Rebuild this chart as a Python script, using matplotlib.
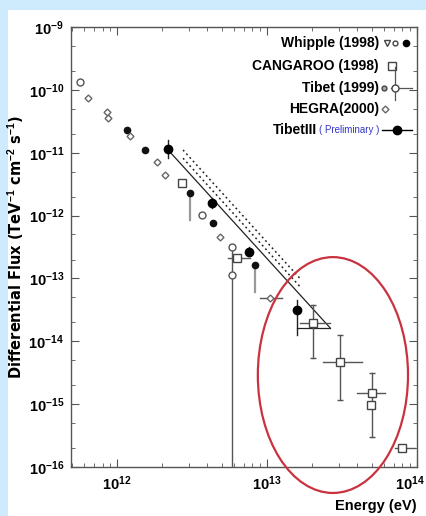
import matplotlib
matplotlib.use('Agg')
import matplotlib.pyplot as plt
import numpy as np
from matplotlib.patches import Ellipse, Rectangle
from matplotlib.ticker import LogLocator, FuncFormatter, NullFormatter

plt.rcParams['font.family'] = ['Liberation Sans', 'DejaVu Sans']
plt.rcParams['mathtext.fontset'] = 'custom'
plt.rcParams['mathtext.rm'] = 'Liberation Sans'
plt.rcParams['mathtext.bf'] = 'Liberation Sans:bold'

# ---------------- data (log10 of energy in eV, log10 of flux) ----------------
whipple_logE = [12.067, 12.187, 12.487, 12.64, 12.92]
whipple_logF = [-10.638, -10.955, -11.639, -12.116, -12.784]
whipple_logF_lo = [-10.638, -10.955, -12.068, -12.116, -13.213]

tibet3_logE = [12.34, 12.633, 12.88, 13.2]
tibet3_logF = [-10.94, -11.798, -12.577, -13.499]
tibet3_logF_hi = [-10.797, -11.72, -12.5, -13.34]
tibet3_logF_lo = [-11.083, -11.88, -12.65, -13.897]

tibet_logE = [11.753, 12.567, 12.767, 12.767]
tibet_logF = [-9.874, -11.989, -12.498, -12.943]
tibet_logF_lo = [-9.874, -11.989, -16.5, -12.943]

cangaroo_logE = [12.433, 12.8, 13.307, 13.487, 13.7, 13.693, 13.9]
cangaroo_logF = [-11.48, -12.672, -13.706, -14.326, -14.819, -15.01, -15.693]
cangaroo_logE_lo = [12.433, 12.74, 13.22, 13.373, 13.6, 13.693, 13.853]
cangaroo_logE_hi = [12.433, 12.887, 13.42, 13.633, 13.787, 13.693, 13.987]
cangaroo_logF_hi = [-11.48, -12.672, -13.42, -13.897, -14.5, -15.01, -15.693]
cangaroo_logF_lo = [-11.48, -12.672, -14.26, -14.93, -15.518, -15.01, -15.693]

hegra_logE = [11.807, 11.933, 11.94, 12.087, 12.267, 12.32, 12.687, 13.02]
hegra_logF = [-10.129, -10.351, -10.447, -10.733, -11.146, -11.353, -12.339, -13.308]
hegra_logE_lo = [11.807, 11.933, 11.94, 12.087, 12.267, 12.32, 12.687, 12.953]
hegra_logE_hi = [11.807, 11.933, 11.94, 12.087, 12.267, 12.32, 12.687, 13.1]

# power-law fit (TibetIII) and its band
fit_index = 2.62
fit_logE0 = 12.34
fit_logF0 = -10.955
fit_range = [12.34, 13.42]
band_offsets = [0.13, 0.26]
band_range = [12.44, 13.22]
fit_end_bar_logE = 13.2

legend_labels = ['Whipple (1998)', 'CANGAROO (1998)', 'Tibet (1999)', 'HEGRA(2000)', 'TibetIII']

def p(v):
    return 10.0 ** np.asarray(v, dtype=float)

# ---------------- figure ----------------
fig = plt.figure(figsize=(4.27, 5.16), dpi=100)
fig.patch.set_facecolor('#CDEBFD')
fig.patches.append(Rectangle((8 / 427, 0), 1, 1 - 10 / 516, transform=fig.transFigure,
                             facecolor='white', edgecolor='none', zorder=-10))

ax = fig.add_axes([71 / 427, 49 / 516, 346 / 427, 440 / 516])
ax.set_zorder(1)
ax.set_facecolor('white')
ax.set_xscale('log')
ax.set_yscale('log')
ax.set_xlim(10 ** 11.693, 1e14)
ax.set_ylim(1e-16, 1e-9)

dark = '#222222'

# fit lines
Efit = np.array(fit_range)
Ffit = fit_logF0 - fit_index * (Efit - fit_logE0)
ax.plot(p(Efit), p(Ffit), color=dark, lw=0.9, zorder=2)
ax.plot(p([fit_end_bar_logE, fit_range[1]]), p([Ffit[-1], Ffit[-1]]), color=dark, lw=0.9, zorder=2)
Eb = np.array(band_range)
for off in band_offsets:
    Fb = fit_logF0 + off - fit_index * (Eb - fit_logE0)
    ax.plot(p(Eb), p(Fb), color=dark, lw=1.1, ls=(0, (1.2, 2.0)), zorder=2)

# Whipple: filled circles
for e, f, flo in zip(whipple_logE, whipple_logF, whipple_logF_lo):
    if flo != f:
        ax.plot(p([e, e]), p([f, flo]), color='#999999', lw=1.6, zorder=3)
ax.plot(p(whipple_logE), p(whipple_logF), 'o', ms=4.5, color='#111111', zorder=4, ls='none')

# TibetIII: larger filled circles with error bars
for e, fh, fl in zip(tibet3_logE, tibet3_logF_hi, tibet3_logF_lo):
    ax.plot(p([e, e]), p([fh, fl]), color=dark, lw=1.0, zorder=3)
ax.plot(p(tibet3_logE), p(tibet3_logF), 'o', ms=6, color='black', zorder=5, ls='none')

# Tibet (1999): open circles
for e, f, flo in zip(tibet_logE, tibet_logF, tibet_logF_lo):
    if flo != f:
        ax.plot(p([e, e]), p([f, flo]), color='#555555', lw=1.0, zorder=3)
ax.plot(p(tibet_logE), p(tibet_logF), 'o', ms=5, mfc='white', mec='#555555', mew=1.0, zorder=4, ls='none')

# CANGAROO: open squares with error bars
for e, el, eh, f, fh, fl in zip(cangaroo_logE, cangaroo_logE_lo, cangaroo_logE_hi,
                                cangaroo_logF, cangaroo_logF_hi, cangaroo_logF_lo):
    if el != eh:
        ax.plot(p([el, eh]), p([f, f]), color='#555555', lw=1.0, zorder=3)
    if fh != fl:
        ax.plot(p([e, e]), p([fh, fl]), color='#555555', lw=1.0, zorder=3)
        ax.plot(p([e]), p([fl]), marker='_', ms=5, color='#555555', zorder=3)
        ax.plot(p([e]), p([fh]), marker='_', ms=5, color='#555555', zorder=3)
ax.plot(p(cangaroo_logE), p(cangaroo_logF), 's', ms=5.5, mfc='white', mec='#444444', mew=1.0,
        zorder=4, ls='none')

# HEGRA: small open markers
for e, el, eh, f in zip(hegra_logE, hegra_logE_lo, hegra_logE_hi, hegra_logF):
    if el != eh:
        ax.plot(p([el, eh]), p([f, f]), color='#555555', lw=1.0, zorder=3)
ax.plot(p(hegra_logE), p(hegra_logF), 'D', ms=3.5, mfc='white', mec='#666666', mew=1.0,
        zorder=4, ls='none')

# ---------------- axes styling ----------------
for s in ax.spines.values():
    s.set_color('#555555')
    s.set_linewidth(1.0)

def fmt(v, pos):
    if v <= 0:
        return ''
    ex = int(round(np.log10(v)))
    if ex >= 14:
        return ''
    return r'$\mathbf{10^{%d}}$' % ex

ax.xaxis.set_major_locator(LogLocator(base=10, numticks=10))
ax.xaxis.set_minor_locator(LogLocator(base=10, subs=np.arange(2, 10), numticks=20))
ax.yaxis.set_major_locator(LogLocator(base=10, numticks=12))
ax.yaxis.set_minor_locator(LogLocator(base=10, subs=(2, 5), numticks=20))
ax.xaxis.set_major_formatter(FuncFormatter(fmt))
ax.yaxis.set_major_formatter(FuncFormatter(fmt))
ax.xaxis.set_minor_formatter(NullFormatter())
ax.yaxis.set_minor_formatter(NullFormatter())
ax.tick_params(which='both', direction='in', top=True, right=True, color='#555555')
ax.tick_params(which='major', length=6, labelsize=10.5, pad=5)
ax.tick_params(which='minor', length=3)
# right-most x label, nudged so it stays inside the image
ax.annotate(r'$\mathbf{10^{14}}$', xy=(1, 0), xycoords='axes fraction', xytext=(-5, -5),
            textcoords='offset points', ha='center', va='top', fontsize=10.5)

ax.set_ylabel(r'Differential Flux (TeV$^{\mathbf{-1}}$ cm$^{\mathbf{-2}}$ s$^{\mathbf{-1}}$)',
              fontsize=10.5, fontweight='bold', family=['DejaVu Sans'])
ax.yaxis.set_label_coords(-0.128, 0.5)
ax.set_xlabel('Energy (eV)', fontsize=10.5, fontweight='bold', loc='right', labelpad=5)

# ---------------- legend (manual) ----------------
rows_y = [0.964, 0.911, 0.861, 0.814, 0.766]
tx = 0.89
kw = dict(transform=ax.transAxes, ha='right', va='center', fontsize=10, fontweight='bold')
for lab, yy in zip(legend_labels[:4], rows_y[:4]):
    ax.text(tx, yy, lab, **kw)
prelim = ax.text(tx, rows_y[4], '( Preliminary )', transform=ax.transAxes, ha='right',
                 va='center', fontsize=7, color='#3333CC')
ax.annotate(legend_labels[4], xy=(0, 0.5), xycoords=prelim, ha='right', va='center',
            fontsize=10, fontweight='bold', xytext=(-1, 0), textcoords='offset points')

T = ax.transAxes
# Whipple markers
ax.plot([0.912], [rows_y[0]], 'v', ms=4.5, mfc='white', mec='#444444', transform=T, clip_on=False)
ax.plot([0.936], [rows_y[0]], 'o', ms=3.5, mfc='white', mec='#444444', transform=T, clip_on=False)
ax.plot([0.968], [rows_y[0]], 'o', ms=4.5, color='black', transform=T, clip_on=False)
# CANGAROO
ax.plot([0.928], [rows_y[1]], 's', ms=5.5, mfc='white', mec='#444444', transform=T, clip_on=False)
# Tibet
ax.plot([0.905], [rows_y[2]], 'o', ms=3.5, mfc='#aaaaaa', mec='#444444', transform=T, clip_on=False)
ax.plot([0.936, 0.936], [0.834, 0.909], color='#555555', lw=0.9, transform=T, clip_on=False)
ax.plot([0.925, 0.985], [rows_y[2], rows_y[2]], color='#555555', lw=0.9, transform=T, clip_on=False)
ax.plot([0.936], [rows_y[2]], 'o', ms=5, mfc='white', mec='#444444', transform=T, clip_on=False)
# HEGRA
ax.plot([0.908], [rows_y[3]], 'D', ms=3.5, mfc='white', mec='#666666', transform=T, clip_on=False)
# TibetIII
ax.plot([0.899, 0.985], [rows_y[4], rows_y[4]], color='black', lw=1.0, transform=T, clip_on=False)
ax.plot([0.942], [rows_y[4]], 'o', ms=6, color='black', transform=T, clip_on=False)

# red ellipse highlight
ax.add_patch(Ellipse((0.757, 0.209), 0.434, 0.536, transform=T, fill=False,
                     edgecolor='#C8333F', lw=1.6, clip_on=False, zorder=6))

fig.savefig('out.png', dpi=100)
